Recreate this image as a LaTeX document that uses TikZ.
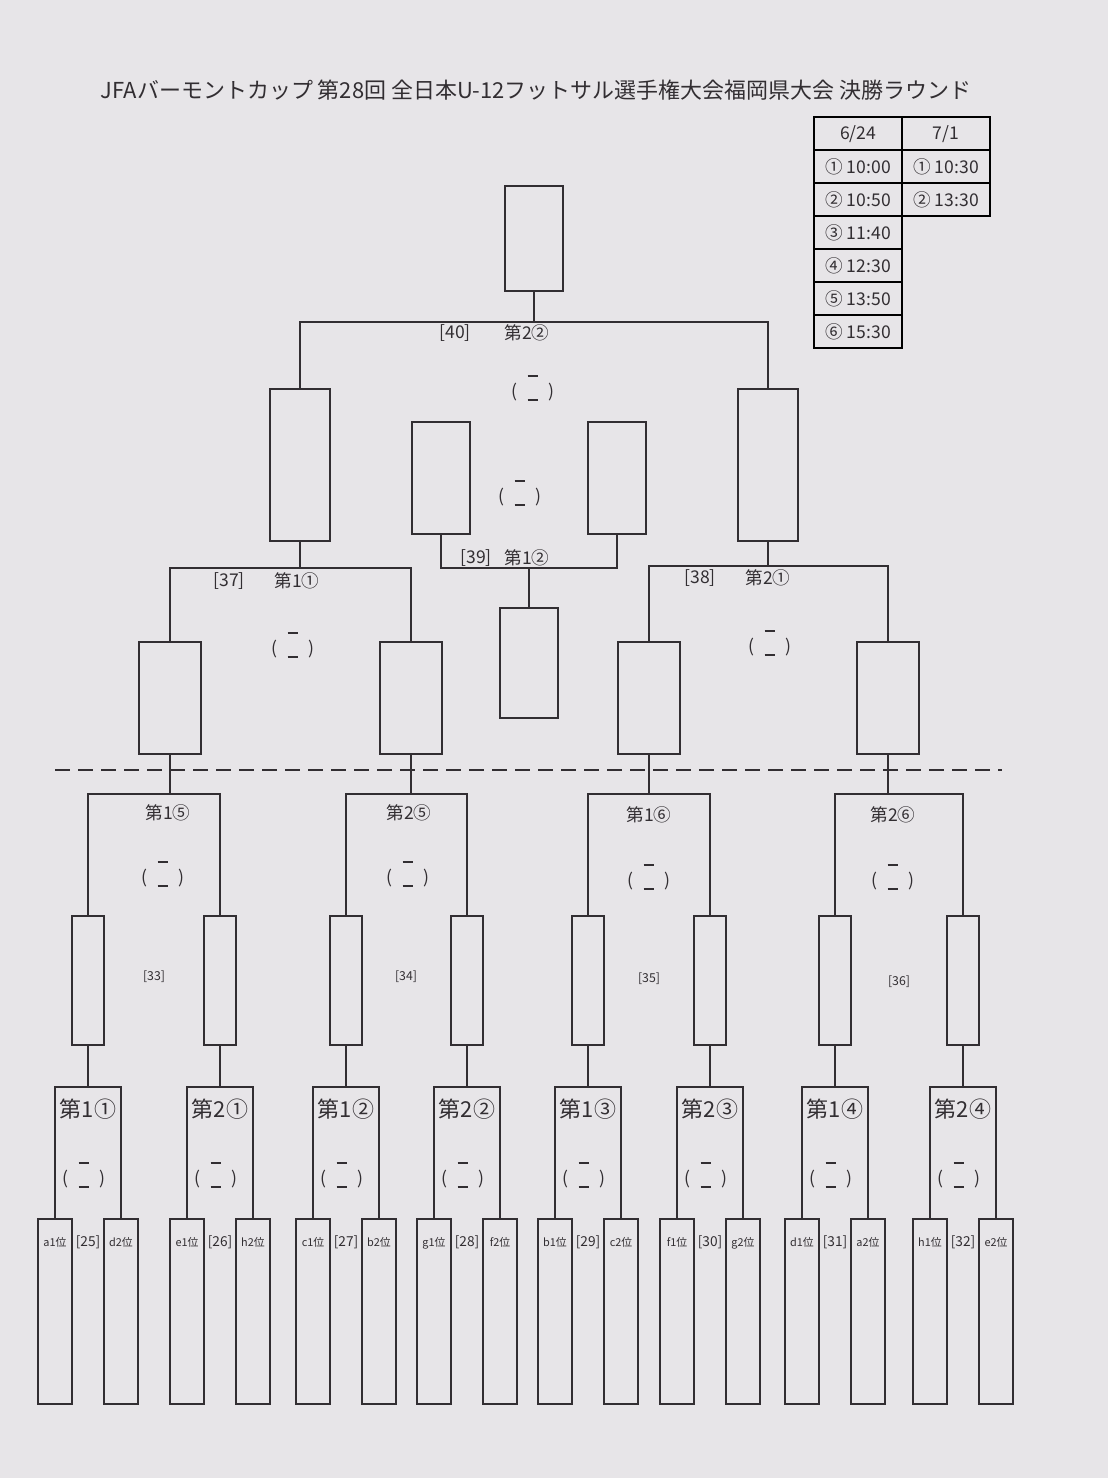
\documentclass[tikz,border=0pt]{standalone}
\usepackage{fontspec}
\setmainfont{Noto Sans CJK JP}
\usepackage{tikz}
\usetikzlibrary{matrix,calc}
\usepackage{xcolor}
\definecolor{paper}{RGB}{231,229,232}
\definecolor{ink}{RGB}{50,46,50}
\newcommand{\scoremark}{(\hspace{0.6em}\raisebox{-0.2em}{\shortstack{\rule{0.6em}{0.7pt}\\[1.0em]\rule{0.6em}{0.7pt}}}\hspace{0.6em})}

\begin{document}
\begin{tikzpicture}[x=0.2mm,y=-0.2mm,line width=1.2pt,color=ink,
    every node/.style={inner sep=0pt},
    pbox/.style={draw,anchor=north,minimum width=6.8mm,minimum height=37mm},
    qbox/.style={draw,anchor=north,minimum width=6.4mm,minimum height=25.8mm},
    mbox/.style={draw,anchor=north,minimum width=12.4mm,minimum height=22.4mm},
    sbox/.style={draw,anchor=north,minimum width=12mm,minimum height=30.4mm},
    tbox/.style={draw,anchor=north,minimum width=11.5mm,minimum height=22.4mm},
    lab/.style={font=\fontsize{10}{12}\selectfont},
    rlab/.style={font=\fontsize{12.5}{14}\selectfont},
    num/.style={font=\fontsize{7.8}{9}\selectfont},
    small/.style={font=\fontsize{7}{8}\selectfont},
    tag/.style={anchor=north,font=\fontsize{6.2}{7}\selectfont}]

    \fill[paper] (0,0) rectangle (1108,1478);
    \useasboundingbox (0,0) rectangle (1108,1478);

    \node (title) at (536,90) {\fontsize{12.5}{14}\selectfont JFAバーモントカップ 第28回 全日本U-12フットサル選手権大会福岡県大会 決勝ラウンド};

    % time table
    \matrix (tTime) [matrix of nodes,anchor=north west,column sep=-1.2pt,row sep=-1.2pt,
        nodes={draw,minimum width=17.6mm,minimum height=6.6mm,font=\fontsize{10}{12}\selectfont}] at (812,115)
        {
        6/24 & 7/1 \\
        ①\ 10:00 & ①\ 10:30 \\
        ②\ 10:50 & ②\ 13:30 \\
        ③\ 11:40 & \\
        ④\ 12:30 & \\
        ⑤\ 13:50 & \\
        ⑥\ 15:30 & \\
        };

    % final
    \coordinate (jF) at (534,322);
    \node[draw,anchor=north,minimum width=11.6mm,minimum height=21mm] (bF) at (534,185) {};
    \node[sbox] (bSL) at (300,388) {};
    \node[sbox] (bSR) at (768,388) {};
    \draw (bF.south) -- (jF);
    \draw (bSL.north) |- (jF) -| (bSR.north);
    \node[lab] (n40) at (455,333) {[40]};
    \node[lab] (r40) at (527,333) {第2②};
    \node[lab] (s40) at (533,388) {\scoremark};

    % third place
    \coordinate (j3) at (529,568);
    \node[tbox] (b3L) at (441,421) {};
    \node[tbox] (b3R) at (617,421) {};
    \node[draw,anchor=north,minimum width=11.6mm,minimum height=22mm] (b3W) at (529,607) {};
    \draw (b3L.south) |- (j3) -| (b3R.south);
    \draw (j3) -- (b3W.north);
    \node[lab] (n39) at (476,558) {[39]};
    \node[lab] (r39) at (527,558) {第1②};
    \node[lab] (s39) at (520,493) {\scoremark};

    % semi finals
    \coordinate (jSL) at (300,568);
    \coordinate (jSR) at (768,566);
    \node[mbox] (bA) at (170,641) {};
    \node[mbox] (bB) at (411,641) {};
    \node[mbox] (bC) at (649,641) {};
    \node[mbox] (bD) at (888,641) {};
    \draw (bSL.south) -- (jSL);
    \draw (bA.north) |- (jSL) -| (bB.north);
    \draw (bSR.south) -- (jSR);
    \draw (bC.north) |- (jSR) -| (bD.north);
    \node[lab] (n37) at (229,581) {[37]};
    \node[lab] (r37) at (297,581) {第1①};
    \node[lab] (s37) at (293,645) {\scoremark};
    \node[lab] (n38) at (700,578) {[38]};
    \node[lab] (r38) at (768,578) {第2①};
    \node[lab] (s38) at (770,643) {\scoremark};

    % dashed separation
    \coordinate (dashL) at (55,770);
    \coordinate (dashR) at (1002,770);
    \draw[dash pattern=on 3mm off 1.6mm] (dashL) -- (dashR);

    % quarter finals
    \coordinate (jA) at (170,794);
    \coordinate (jB) at (411,794);
    \coordinate (jC) at (649,794);
    \coordinate (jD) at (888,794);
    \node[qbox] (q25) at (88,915) {};
    \node[qbox] (q26) at (220,915) {};
    \node[qbox] (q27) at (346,915) {};
    \node[qbox] (q28) at (467,915) {};
    \node[qbox] (q29) at (588,915) {};
    \node[qbox] (q30) at (710,915) {};
    \node[qbox] (q31) at (835,915) {};
    \node[qbox] (q32) at (963,915) {};
    \draw (bA.south) -- (jA);
    \draw (q25.north) |- (jA) -| (q26.north);
    \draw (bB.south) -- (jB);
    \draw (q27.north) |- (jB) -| (q28.north);
    \draw (bC.south) -- (jC);
    \draw (q29.north) |- (jC) -| (q30.north);
    \draw (bD.south) -- (jD);
    \draw (q31.north) |- (jD) -| (q32.north);
    \node[lab] (r33) at (168,813) {第1⑤};
    \node[lab] (s33) at (163,874) {\scoremark};
    \node[small] (n33) at (154,977) {[33]};
    \node[lab] (r34) at (409,813) {第2⑤};
    \node[lab] (s34) at (408,874) {\scoremark};
    \node[small] (n34) at (406,977) {[34]};
    \node[lab] (r35) at (649,815) {第1⑥};
    \node[lab] (s35) at (649,877) {\scoremark};
    \node[small] (n35) at (649,979) {[35]};
    \node[lab] (r36) at (893,815) {第2⑥};
    \node[lab] (s36) at (893,877) {\scoremark};
    \node[small] (n36) at (899,982) {[36]};

    % first round
    \coordinate (j25) at (88,1087);
    \coordinate (j26) at (220,1087);
    \coordinate (j27) at (346,1087);
    \coordinate (j28) at (467,1087);
    \coordinate (j29) at (588,1087);
    \coordinate (j30) at (710,1087);
    \coordinate (j31) at (835,1087);
    \coordinate (j32) at (963,1087);

    \node[pbox] (p25a) at (55,1218) {};
    \node[pbox] (p25b) at (121,1218) {};
    \node[pbox] (p26a) at (187,1218) {};
    \node[pbox] (p26b) at (253,1218) {};
    \node[pbox] (p27a) at (313,1218) {};
    \node[pbox] (p27b) at (379,1218) {};
    \node[pbox] (p28a) at (434,1218) {};
    \node[pbox] (p28b) at (500,1218) {};
    \node[pbox] (p29a) at (555,1218) {};
    \node[pbox] (p29b) at (621,1218) {};
    \node[pbox] (p30a) at (677,1218) {};
    \node[pbox] (p30b) at (743,1218) {};
    \node[pbox] (p31a) at (802,1218) {};
    \node[pbox] (p31b) at (868,1218) {};
    \node[pbox] (p32a) at (930,1218) {};
    \node[pbox] (p32b) at (996,1218) {};

    \draw (q25.south) -- (j25);  \draw (p25a.north) |- (j25) -| (p25b.north);
    \draw (q26.south) -- (j26);  \draw (p26a.north) |- (j26) -| (p26b.north);
    \draw (q27.south) -- (j27);  \draw (p27a.north) |- (j27) -| (p27b.north);
    \draw (q28.south) -- (j28);  \draw (p28a.north) |- (j28) -| (p28b.north);
    \draw (q29.south) -- (j29);  \draw (p29a.north) |- (j29) -| (p29b.north);
    \draw (q30.south) -- (j30);  \draw (p30a.north) |- (j30) -| (p30b.north);
    \draw (q31.south) -- (j31);  \draw (p31a.north) |- (j31) -| (p31b.north);
    \draw (q32.south) -- (j32);  \draw (p32a.north) |- (j32) -| (p32b.north);

    \node[rlab] (r25) at ($(j25)+(0,22)$) {第1①};
    \node[rlab] (r26) at ($(j26)+(0,22)$) {第2①};
    \node[rlab] (r27) at ($(j27)+(0,22)$) {第1②};
    \node[rlab] (r28) at ($(j28)+(0,22)$) {第2②};
    \node[rlab] (r29) at ($(j29)+(0,22)$) {第1③};
    \node[rlab] (r30) at ($(j30)+(0,22)$) {第2③};
    \node[rlab] (r31) at ($(j31)+(0,22)$) {第1④};
    \node[rlab] (r32) at ($(j32)+(0,22)$) {第2④};

    \node[lab] (s25) at ($(j25)+(-4,88)$) {\scoremark};
    \node[lab] (s26) at ($(j26)+(-4,88)$) {\scoremark};
    \node[lab] (s27) at ($(j27)+(-4,88)$) {\scoremark};
    \node[lab] (s28) at ($(j28)+(-4,88)$) {\scoremark};
    \node[lab] (s29) at ($(j29)+(-4,88)$) {\scoremark};
    \node[lab] (s30) at ($(j30)+(-4,88)$) {\scoremark};
    \node[lab] (s31) at ($(j31)+(-4,88)$) {\scoremark};
    \node[lab] (s32) at ($(j32)+(-4,88)$) {\scoremark};

    \node[num] (n25) at ($(j25)+(0,155)$) {[25]};
    \node[num] (n26) at ($(j26)+(0,155)$) {[26]};
    \node[num] (n27) at ($(j27)+(0,155)$) {[27]};
    \node[num] (n28) at ($(j28)+(0,155)$) {[28]};
    \node[num] (n29) at ($(j29)+(0,155)$) {[29]};
    \node[num] (n30) at ($(j30)+(0,155)$) {[30]};
    \node[num] (n31) at ($(j31)+(0,155)$) {[31]};
    \node[num] (n32) at ($(j32)+(0,155)$) {[32]};

    \node[tag] (t25a) at ($(p25a.north)+(0,18)$) {a1位};
    \node[tag] (t25b) at ($(p25b.north)+(0,18)$) {d2位};
    \node[tag] (t26a) at ($(p26a.north)+(0,18)$) {e1位};
    \node[tag] (t26b) at ($(p26b.north)+(0,18)$) {h2位};
    \node[tag] (t27a) at ($(p27a.north)+(0,18)$) {c1位};
    \node[tag] (t27b) at ($(p27b.north)+(0,18)$) {b2位};
    \node[tag] (t28a) at ($(p28a.north)+(0,18)$) {g1位};
    \node[tag] (t28b) at ($(p28b.north)+(0,18)$) {f2位};
    \node[tag] (t29a) at ($(p29a.north)+(0,18)$) {b1位};
    \node[tag] (t29b) at ($(p29b.north)+(0,18)$) {c2位};
    \node[tag] (t30a) at ($(p30a.north)+(0,18)$) {f1位};
    \node[tag] (t30b) at ($(p30b.north)+(0,18)$) {g2位};
    \node[tag] (t31a) at ($(p31a.north)+(0,18)$) {d1位};
    \node[tag] (t31b) at ($(p31b.north)+(0,18)$) {a2位};
    \node[tag] (t32a) at ($(p32a.north)+(0,18)$) {h1位};
    \node[tag] (t32b) at ($(p32b.north)+(0,18)$) {e2位};

\end{tikzpicture}
\end{document}
